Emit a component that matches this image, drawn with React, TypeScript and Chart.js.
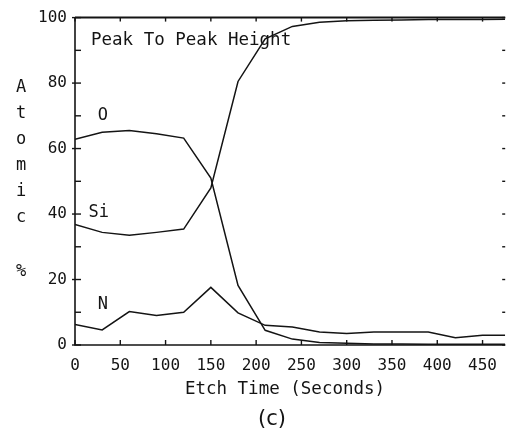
import React, { useEffect, useRef } from "react";
import { Chart, registerables } from "chart.js";

Chart.register(...registerables);

const times = [0, 30, 60, 90, 120, 150, 180, 210, 240, 270, 300, 330, 360, 390, 420, 450, 475];
const oxygen = [62.8, 65, 65.5, 64.5, 63.2, 51, 18.2, 4.5, 1.8, 0.8, 0.5, 0.3, 0.3, 0.2, 0.2, 0.2, 0.2];
const silicon = [36.8, 34.4, 33.5, 34.4, 35.4, 48, 80.5, 93.5, 97.3, 98.6, 99, 99.2, 99.3, 99.4, 99.4, 99.4, 99.5];
const nitrogen = [6.3, 4.6, 10.2, 9, 10, 17.6, 9.8, 6, 5.5, 4, 3.5, 4, 4, 4, 2.2, 3, 3];

const xTickLabels = [0, 50, 100, 150, 200, 250, 300, 350, 400, 450];
const yTickLabels = [0, 20, 40, 60, 80, 100];
const yAxisLetters = ["A", "t", "o", "m", "i", "c", "", "%"];

const INK = "#141414";
const MONO = "'DejaVu Sans Mono', monospace";

const decorPlugin = {
  id: "decor",
  afterDraw(chart: any) {
    const ctx = chart.ctx;
    const { left, right, top, bottom } = chart.chartArea;
    const xs = chart.scales.x;
    const ys = chart.scales.y;
    ctx.save();
    ctx.strokeStyle = INK;
    ctx.fillStyle = INK;
    // frame
    ctx.lineWidth = 2;
    ctx.beginPath();
    ctx.moveTo(left, top);
    ctx.lineTo(right, top);
    ctx.stroke();
    ctx.lineWidth = 1.6;
    ctx.beginPath();
    ctx.moveTo(left, top);
    ctx.lineTo(left, bottom);
    ctx.lineTo(right, bottom);
    ctx.stroke();
    // y ticks (left inward, right inward)
    ctx.lineWidth = 1.4;
    for (let v = 0; v <= 100; v += 10) {
      const y = ys.getPixelForValue(v);
      const major = v % 20 === 0;
      ctx.beginPath();
      ctx.moveTo(left - (major ? 3 : 0), y);
      ctx.lineTo(left + 6, y);
      ctx.stroke();
      ctx.beginPath();
      ctx.moveTo(right - 3, y);
      ctx.lineTo(right, y);
      ctx.stroke();
    }
    // x ticks (top and bottom inward)
    for (const v of xTickLabels) {
      const x = xs.getPixelForValue(v);
      ctx.beginPath();
      ctx.moveTo(x, top);
      ctx.lineTo(x, top + 4);
      ctx.stroke();
      ctx.beginPath();
      ctx.moveTo(x, bottom);
      ctx.lineTo(x, bottom - 5);
      ctx.stroke();
    }
    // texts
    ctx.textBaseline = "middle";
    ctx.textAlign = "left";
    ctx.font = `17.5px ${MONO}`;
    ctx.fillText("Peak To Peak Height", left + 16, 40);
    ctx.font = `17px ${MONO}`;
    ctx.fillText("O", xs.getPixelForValue(25), 116);
    ctx.fillText("Si", xs.getPixelForValue(15), 213);
    ctx.fillText("N", xs.getPixelForValue(25), 305);
    ctx.textAlign = "center";
    ctx.font = `17.5px ${MONO}`;
    ctx.fillText("Etch Time (Seconds)", 285, 389);
    ctx.font = `17px ${MONO}`;
    let yy = 88;
    for (const ch of yAxisLetters) {
      if (ch) ctx.fillText(ch, 21, yy);
      yy += ch ? 26 : 28;
    }
    ctx.font = "21px 'DejaVu Sans', sans-serif";
    ctx.fillText("(c)", 272, 420);
    ctx.restore();
  },
};

export default function App() {
  const ref = useRef<HTMLCanvasElement | null>(null);
  useEffect(() => {
    document.body.style.margin = "0";
    const toPts = (arr: number[]) => times.map((t, i) => ({ x: t, y: arr[i] }));
    const ds = (label: string, arr: number[]) => ({
      label,
      data: toPts(arr),
      borderColor: INK,
      borderWidth: 1.5,
      pointRadius: 0,
      tension: 0,
      fill: false,
    });
    const chart = new Chart(ref.current as HTMLCanvasElement, {
      type: "line",
      data: { datasets: [ds("O", oxygen), ds("Si", silicon), ds("N", nitrogen)] },
      options: {
        animation: false,
        responsive: false,
        layout: { padding: { top: 11, right: 0, left: 0, bottom: 0 } },
        plugins: { legend: { display: false }, tooltip: { enabled: false } },
        scales: {
          x: {
            type: "linear",
            min: 0,
            max: 475,
            afterBuildTicks: (s: any) => {
              s.ticks = xTickLabels.map((v) => ({ value: v }));
            },
            afterFit: (s: any) => {
              s.height = 85;
            },
            ticks: { color: INK, font: { family: MONO, size: 16 }, padding: 11, maxRotation: 0 },
            grid: { display: false, drawTicks: false },
            border: { display: false },
          },
          y: {
            min: 0,
            max: 100,
            afterBuildTicks: (s: any) => {
              s.ticks = yTickLabels.map((v) => ({ value: v }));
            },
            afterFit: (s: any) => {
              s.width = 75;
            },
            ticks: { color: INK, font: { family: MONO, size: 16 }, padding: 8 },
            grid: { display: false, drawTicks: false },
            border: { display: false },
          },
        },
      },
      plugins: [decorPlugin],
    } as any);
    return () => chart.destroy();
  }, []);
  return (
    <div style={{ position: "absolute", left: 0, top: 0, width: 508, height: 430, background: "#fff" }}>
      <canvas ref={ref} width={508} height={430} style={{ width: 508, height: 430, display: "block" }} />
    </div>
  );
}
